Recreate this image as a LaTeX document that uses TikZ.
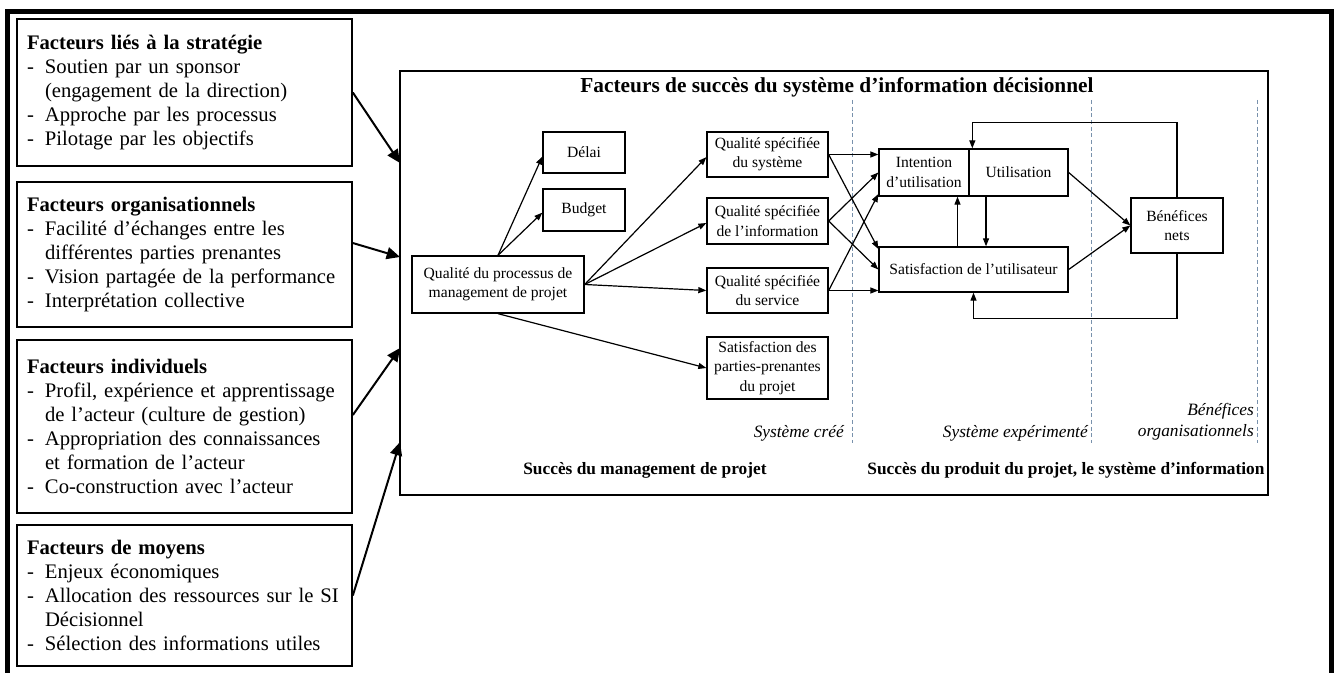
\documentclass[tikz,border=0pt]{standalone}
\usepackage{fontspec}
\setmainfont{Liberation Serif}
\usetikzlibrary{arrows.meta, positioning, calc}
\definecolor{sepblue}{RGB}{120,145,172}
\newcommand{\itm}{\makebox[13.5pt][l]{-}}
\newcommand{\cnt}{\hspace*{13.5pt}}

\begin{document}
\begin{tikzpicture}[
  x=0.75pt, y=-0.75pt,
  facbox/.style={draw, line width=1.25pt, text width=236.25pt, inner xsep=7.5pt, inner ysep=2pt, align=left, font=\fontsize{15.5}{18}\selectfont},
  box/.style={draw, line width=1pt, align=center, inner sep=0pt, font=\fontsize{11.7}{14.5}\selectfont},
  lbl/.style={inner sep=0pt, font=\itshape\fontsize{13}{16}\selectfont},
  zone/.style={inner sep=0pt, font=\bfseries\fontsize{13}{16}\selectfont},
  bigarrow/.style={-{Triangle[length=10pt,width=9pt]}, line width=1.5pt},
  arrow/.style={-{Triangle[length=6pt,width=4.5pt]}, line width=0.9pt},
  sep/.style={draw=sepblue, dash pattern=on 3pt off 2pt, line width=0.6pt}
]

\useasboundingbox (0,0) rectangle (1335,673);

% outer frame (open at the bottom)
\draw[line width=3.75pt] (7.5,673) -- (7.5,12) -- (1331,12) -- (1331,673);

% factor boxes
\node[facbox, minimum height=110.25pt] (strat) at (184.5,92.5) {\textbf{Facteurs liés à la stratégie}\\ \itm Soutien par un sponsor\\ \cnt(engagement de la direction)\\ \itm Approche par les processus\\ \itm Pilotage par les objectifs};
\node[facbox, minimum height=108.75pt] (orgn) at (184.5,254.5) {\textbf{Facteurs organisationnels}\\ \itm Facilité d’échanges entre les\\ \cnt différentes parties prenantes\\ \itm Vision partagée de la performance\\ \itm Interprétation collective};
\node[facbox, minimum height=129.75pt] (indiv) at (184.5,426.5) {\textbf{Facteurs individuels}\\ \itm Profil, expérience et apprentissage\\ \cnt de l’acteur (culture de gestion)\\ \itm Appropriation des connaissances\\ \cnt et formation de l’acteur\\ \itm Co-construction avec l’acteur};
\node[facbox, minimum height=105.75pt] (moyens) at (184.5,595.5) {\textbf{Facteurs de moyens}\\ \itm Enjeux économiques\\ \itm Allocation des ressources sur le SI\\ \cnt Décisionnel\\ \itm Sélection des informations utiles};

% success frame
\node[draw, line width=1.1pt, inner sep=0pt, minimum width=651pt, minimum height=318pt] (main) at (834,283) {};
\node[inner sep=0pt, font=\bfseries\fontsize{16}{19}\selectfont] (title) at (837,87) {Facteurs de succès du système d’information décisionnel};

\coordinate (in1) at (400,163);
\coordinate (in2) at (400,257);
\coordinate (in3) at (400,348);
\coordinate (in4) at (400,442);

\draw[bigarrow] (strat.east) -- (in1);
\draw[bigarrow] ([yshift=8.6pt]orgn.east) -- (in2);
\draw[bigarrow] ([yshift=8.6pt]indiv.east) -- (in3);
\draw[bigarrow] (moyens.east) -- (in4);

% separators
\draw[sep] (852,100) -- (852,443);
\draw[sep] (1091,100) -- (1091,443);
\draw[sep] (1257,100) -- (1257,443);

% project management
\node[box, minimum width=61.5pt, minimum height=30.75pt] (delai) at (584,152.5) {Délai};
\node[box, minimum width=61.5pt, minimum height=31.5pt] (budget) at (584,210) {Budget};
\node[box, minimum width=129pt, minimum height=42.75pt] (qpm) at (498,284.5) {Qualité du processus de\\management de projet};
\node[box, minimum width=90.75pt, minimum height=33.75pt] (qss) at (767.5,154.5) {Qualité spécifiée\\du système};
\node[box, minimum width=90.75pt, minimum height=34.5pt] (qsi) at (767.5,221) {Qualité spécifiée\\de l’information};
\node[box, minimum width=90.75pt, minimum height=33.75pt] (qsv) at (767.5,290.5) {Qualité spécifiée\\du service};
\node[box, minimum width=90.75pt, minimum height=46.5pt] (satpp) at (767.5,368) {Satisfaction des\\parties-prenantes\\du projet};

% system use
\node[box, minimum width=67.5pt, minimum height=35.25pt] (intent) at (924,172.5) {Intention\\d’utilisation};
\node[box, minimum width=74.25pt, minimum height=35.25pt] (util) at (1018.5,172.5) {Utilisation};
\node[box, minimum width=141.75pt, minimum height=33.75pt] (satu) at (973.5,269.5) {Satisfaction de l’utilisateur};
\node[box, minimum width=69pt, minimum height=41.25pt] (benef) at (1177,225.5) {Bénéfices\\nets};

\draw[arrow] (qpm.north) -- ([yshift=-3pt]delai.west);
\draw[arrow] (qpm.north) -- ([yshift=-2pt]budget.west);
\draw[arrow] (qpm.east) -- ([yshift=-2pt]qss.west);
\draw[arrow] (qpm.east) -- ([yshift=-1.5pt]qsi.west);
\draw[arrow] (qpm.east) -- (qsv.west);
\draw[arrow] (qpm.south) -- (satpp.west);

\draw[arrow] (qss.east) -- (qss.east -| intent.west);
\draw[arrow] (qss.east) -- ([yshift=-2pt]satu.north west);
\draw[arrow] (qsi.east) -- (intent.west);
\draw[arrow] (qsi.east) -- (satu.west);
\draw[arrow] (qsv.east) -- ([yshift=2pt]intent.south west);
\draw[arrow] (qsv.east) -- (qsv.east -| satu.west);

\draw[arrow] (util.east) -- (benef.west);
\draw[arrow] (satu.east) -- (benef.west);
\draw[arrow] (benef.north) -- ++(0,-75) -| ([xshift=3pt]util.north west);
\draw[arrow] (benef.south) -- ++(0,65) -| (satu.south);

\coordinate (up) at ([xshift=-12pt]satu.north);
\coordinate (dn) at ([xshift=9.4pt]satu.north);
\draw[arrow] (up) -- (up |- intent.south);
\draw[arrow] (dn |- util.south) -- (dn);

% zone labels
\node[lbl, anchor=east] (cree) at (844,433) {Système créé};
\node[lbl, anchor=east] (expe) at (1088,433) {Système expérimenté};
\node[lbl, anchor=east, align=right] (benorg) at (1254,422) {Bénéfices\\organisationnels};
\node[zone] (smp) at (645,470) {Succès du management de projet};
\node[zone] (spp) at (1066,470) {Succès du produit du projet, le système d’information};

\end{tikzpicture}
\end{document}
